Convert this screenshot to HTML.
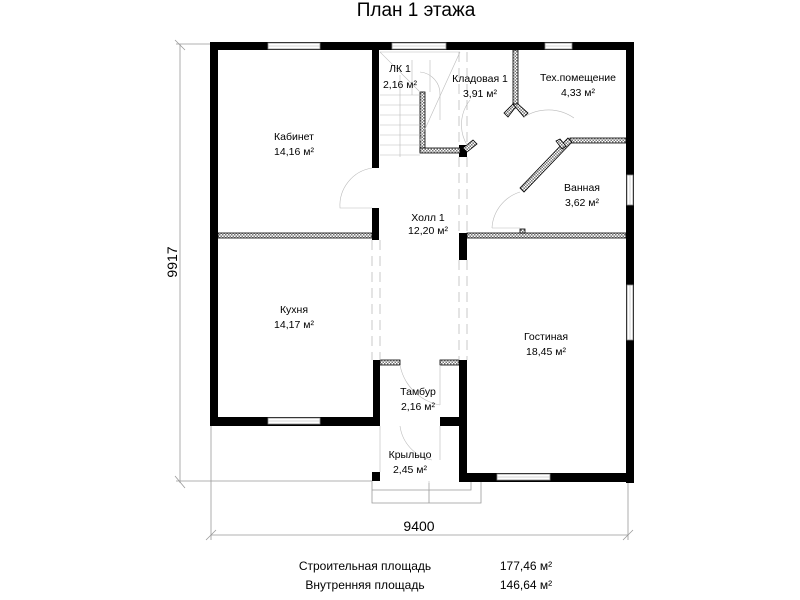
<!DOCTYPE html>
<html><head><meta charset="utf-8"><style>
body{margin:0;background:#fff}
svg{display:block;font-family:"Liberation Sans",sans-serif}
</style></head><body>
<svg width="800" height="600" viewBox="0 0 800 600" xmlns="http://www.w3.org/2000/svg">
<defs>
<pattern id="h" width="3" height="3" patternUnits="userSpaceOnUse"><rect width="3" height="3" fill="#fff"/><rect width="1.5" height="1.5" fill="#777"/><rect x="1.5" y="1.5" width="1.5" height="1.5" fill="#777"/></pattern>
</defs>
<text x="416" y="16" font-size="19" text-anchor="middle">План 1 этажа</text>
<g stroke="#999" stroke-width="0.8" fill="none">
<line x1="180" y1="44" x2="180" y2="483"/>
<line x1="176" y1="44" x2="210" y2="44"/>
<line x1="176" y1="481" x2="372" y2="481"/>
<line x1="175" y1="476" x2="185" y2="488"/>
<line x1="175" y1="40" x2="185" y2="50"/>
<line x1="211" y1="535" x2="628" y2="535"/>
<line x1="211" y1="425" x2="211" y2="540"/>
<line x1="628" y1="483" x2="628" y2="540"/>
<line x1="206" y1="540" x2="216" y2="530"/>
<line x1="623" y1="540" x2="633" y2="530"/>
<polyline points="372,481 372,503 481,503 481,481"/>
<polyline points="372,490 471,490 471,481"/>
<line x1="429" y1="483" x2="429" y2="503"/>
</g>
<text transform="translate(177,262) rotate(-90)" font-size="14" text-anchor="middle">9917</text>
<text x="419" y="531" font-size="14" text-anchor="middle">9400</text>
<g fill="#000">
<rect x="210" y="42" width="424" height="8"/>
<rect x="210" y="42" width="8" height="384"/>
<rect x="626" y="42" width="8" height="441"/>
<rect x="210" y="417" width="170" height="9"/>
<rect x="459" y="473" width="175" height="9"/>
<rect x="459" y="360" width="8" height="122"/>
<rect x="373" y="360" width="7" height="66"/>
<rect x="440" y="417" width="27" height="9"/>
<rect x="372" y="472" width="8" height="9"/>
<rect x="372" y="50" width="7" height="118"/>
<rect x="372" y="208" width="7" height="32"/>
<rect x="459" y="233" width="8" height="27"/>
<rect x="459" y="145" width="8" height="12"/>
</g>
<g fill="#fff" stroke="#888" stroke-width="0.8">
<rect x="268" y="43" width="52" height="6"/>
<rect x="392" y="43" width="54" height="6"/>
<rect x="545" y="43" width="27" height="6"/>
<rect x="268" y="418" width="52" height="6"/>
<rect x="497" y="474" width="53" height="6"/>
<rect x="627" y="175" width="6" height="30"/>
<rect x="627" y="285" width="6" height="55"/>
</g>
<g stroke="#aaa" stroke-width="0.5">
<line x1="268" y1="46" x2="320" y2="46"/><line x1="392" y1="46" x2="446" y2="46"/><line x1="545" y1="46" x2="572" y2="46"/>
<line x1="268" y1="421" x2="320" y2="421"/><line x1="497" y1="477" x2="550" y2="477"/>
<line x1="630" y1="175" x2="630" y2="205"/><line x1="630" y1="285" x2="630" y2="340"/>
</g>
<g fill="url(#h)" stroke="#000" stroke-width="0.8">
<rect x="218" y="233" width="154" height="5"/>
<rect x="467" y="233" width="159" height="5"/>
<rect x="513" y="50" width="5" height="58"/>
<rect x="420" y="92" width="5" height="60"/>
<rect x="420" y="148" width="40" height="5"/>
<rect x="380" y="360" width="20" height="5"/>
<rect x="440" y="360" width="19" height="5"/>
<rect x="570" y="138" width="56" height="5"/>
<polygon points="568,138 572,142 524,192 520,188"/>
<polygon points="513,104 518,104 508,117 504,113"/>
<polygon points="513,104 518,104 528,113 524,117"/>
<polygon points="473,140 477,144 467,152 463,148"/>
<polygon points="556,141 560,139 566,146 562,149"/>
<rect x="520" y="229" width="5" height="4"/>
</g>
<g stroke="#bbb" stroke-width="0.6" fill="none">
<line x1="380" y1="52" x2="460" y2="52"/>
<line x1="380" y1="52" x2="420" y2="92"/>
<line x1="460" y1="52" x2="420" y2="140"/>
<line x1="380" y1="95" x2="420" y2="95"/>
<line x1="380" y1="105" x2="420" y2="105"/>
<line x1="380" y1="115" x2="420" y2="115"/>
<line x1="380" y1="125" x2="420" y2="125"/>
<line x1="380" y1="135" x2="420" y2="135"/>
<line x1="380" y1="145" x2="420" y2="145"/>
<line x1="380" y1="155" x2="420" y2="155"/>
<line x1="400" y1="75" x2="400" y2="157"/>
<line x1="412" y1="60" x2="412" y2="95"/>
<line x1="430" y1="60" x2="430" y2="92"/>
<path d="M420 72 A22 22 0 0 1 440 95 L440 120"/>
<path d="M372 168 A38 38 0 0 0 340 208 L372 208"/>
<path d="M467 145 A40 40 0 0 1 470 100"/>
<path d="M524 117 A45 45 0 0 1 574 118"/>
<path d="M520 192 A40 40 0 0 0 492 228"/>
<line x1="492" y1="228" x2="520" y2="228"/>
<path d="M400 365 A50 50 0 0 0 440 405"/>
<line x1="440" y1="365" x2="440" y2="405"/>
<path d="M400 426 A40 40 0 0 0 432 460"/>
<line x1="440" y1="426" x2="440" y2="460"/>
<line x1="380" y1="426" x2="380" y2="472"/>
<line x1="429" y1="481" x2="429" y2="490"/>
</g>
<g stroke="#bbb" stroke-width="0.8" stroke-dasharray="10,6" fill="none">
<line x1="372" y1="240" x2="372" y2="360"/><line x1="380" y1="240" x2="380" y2="360"/>
<line x1="459" y1="260" x2="459" y2="360"/><line x1="467" y1="260" x2="467" y2="360"/>
<line x1="459" y1="52" x2="459" y2="145"/><line x1="467" y1="52" x2="467" y2="145"/>
<line x1="459" y1="157" x2="459" y2="233"/><line x1="467" y1="157" x2="467" y2="233"/>
</g>
<g font-size="10.5" text-anchor="middle" fill="#000">
<text x="294" y="140">Кабинет</text><text x="294" y="155">14,16 м²</text>
<text x="294" y="313">Кухня</text><text x="294" y="328">14,17 м²</text>
<text x="428" y="221">Холл 1</text><text x="428" y="234">12,20 м²</text>
<text x="400" y="72">ЛК 1</text><text x="400" y="88">2,16 м²</text>
<text x="480" y="82">Кладовая 1</text><text x="480" y="97">3,91 м²</text>
<text x="578" y="81">Тех.помещение</text><text x="578" y="96">4,33 м²</text>
<text x="582" y="191">Ванная</text><text x="582" y="206">3,62 м²</text>
<text x="546" y="340">Гостиная</text><text x="546" y="355">18,45 м²</text>
<text x="418" y="395">Тамбур</text><text x="418" y="410">2,16 м²</text>
<text x="410" y="458">Крыльцо</text><text x="410" y="473">2,45 м²</text>
</g>
<g font-size="12" text-anchor="middle" fill="#000">
<text x="365" y="570">Строительная площадь</text><text x="526" y="570">177,46 м²</text>
<text x="365" y="589">Внутренняя площадь</text><text x="526" y="589">146,64 м²</text>
</g>
</svg>
</body></html>
